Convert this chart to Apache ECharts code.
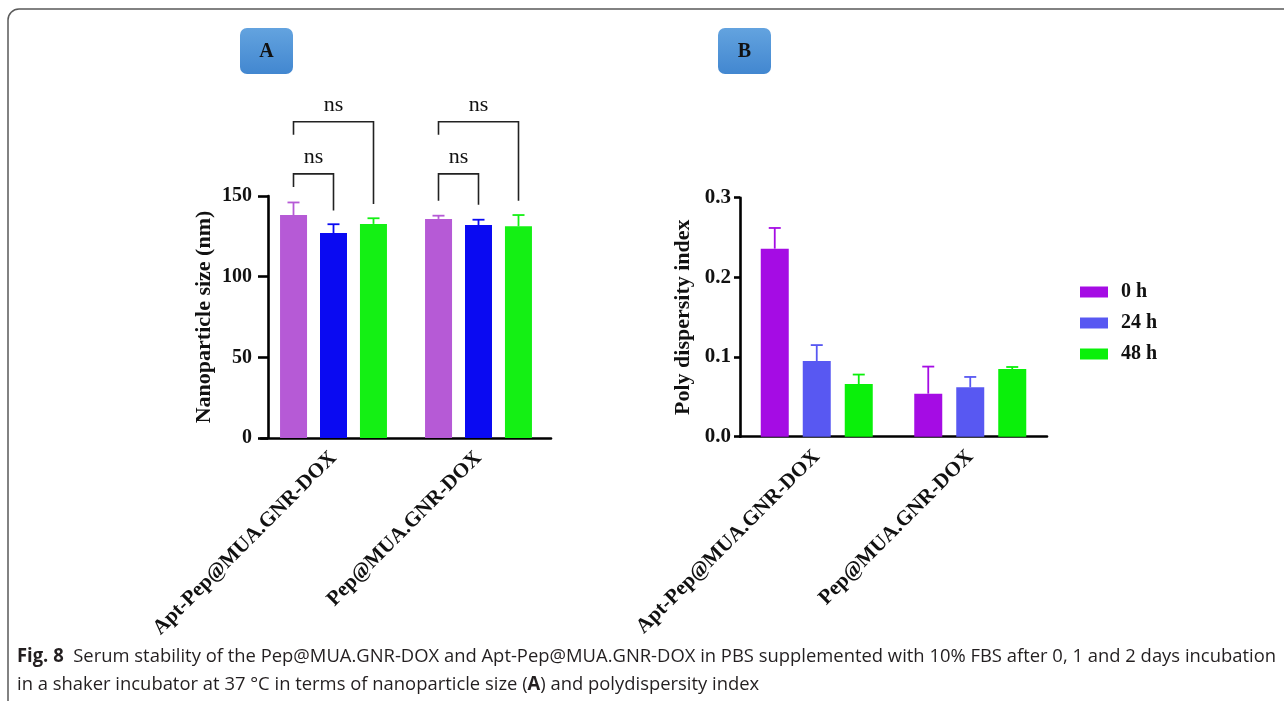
<!DOCTYPE html>
<html>
<head>
<meta charset="utf-8">
<script src="https://cdn.jsdelivr.net/npm/echarts@6/dist/echarts.min.js"></script>
<style>
  html, body { margin: 0; padding: 0; background: #fff; }
  #chart { width: 1284px; height: 701px; }
</style>
</head>
<body>
<div id="chart"></div>
<script>
// categories and time points
const categories = ['Apt-Pep@MUA.GNR-DOX', 'Pep@MUA.GNR-DOX'];
const timePoints = ['0 h', '24 h', '48 h'];

// A: nanoparticle size (nm), mean and SD
const sizeMean0 = [138.2, 135.8];
const sizeSd0 = [7.8, 2.0];
const sizeMean24 = [127.0, 132.0];
const sizeSd24 = [5.5, 3.3];
const sizeMean48 = [132.7, 131.2];
const sizeSd48 = [3.5, 7.0];
const sizeTicks = [0, 50, 100, 150];

// B: poly dispersity index, mean and SD
const pdiMean0 = [0.236, 0.054];
const pdiSd0 = [0.026, 0.034];
const pdiMean24 = [0.095, 0.062];
const pdiSd24 = [0.020, 0.013];
const pdiMean48 = [0.066, 0.085];
const pdiSd48 = [0.012, 0.0025];
const pdiTicks = [0, 0.1, 0.2, 0.3];

// "ns" brackets on panel A: [category, fromBar, toBar, top, leftLegEnd, rightLegEnd]
const brackets = [
  [0, 0, 2, 196, 188, 145],
  [0, 0, 1, 163.7, 155.6, 141],
  [1, 0, 2, 196, 188, 147],
  [1, 0, 1, 163.7, 147, 144.5]
];
const bracketLabel = 'ns';

const colorsA = ['#b65ad6', '#0a0af2', '#14f014'];
const colorsB = ['#a50ce4', '#5858f2', '#0af00a'];
const serif = '"Liberation Serif", "Times New Roman", serif';

const chart = echarts.init(document.getElementById('chart'));

function barSeries(name, values, axis, color, width, gap) {
  return {
    type: 'bar', name: name, data: values,
    xAxisIndex: axis, yAxisIndex: axis,
    barWidth: width, barGap: gap,
    itemStyle: { color: color }, z: 2
  };
}

function errorSeries(name, means, sds, axis, slot, color, pitch) {
  return {
    type: 'custom', name: name, xAxisIndex: axis, yAxisIndex: axis,
    clip: false, z: 3,
    data: means.map((m, i) => [i, m, sds[i]]),
    renderItem(params, api) {
      const x = api.coord([api.value(0), 0])[0] + (slot - 1) * pitch;
      const y0 = api.coord([api.value(0), api.value(1)])[1];
      const y1 = api.coord([api.value(0), api.value(1) + api.value(2)])[1];
      const st = { stroke: color, lineWidth: 1.8 };
      return {
        type: 'group', children: [
          { type: 'line', shape: { x1: x, y1: y0, x2: x, y2: y1 }, style: st },
          { type: 'line', shape: { x1: x - 6, y1: y1, x2: x + 6, y2: y1 }, style: st }
        ]
      };
    }
  };
}

const pitchA = 40, pitchB = 42;

const bracketSeries = {
  type: 'custom', xAxisIndex: 0, yAxisIndex: 0, clip: false, z: 4,
  data: brackets,
  renderItem(params, api) {
    const cx = api.coord([api.value(0), 0])[0];
    const xl = cx + (api.value(1) - 1) * pitchA;
    const xr = cx + (api.value(2) - 1) * pitchA;
    const yt = api.coord([api.value(0), api.value(3)])[1];
    const yl = api.coord([api.value(0), api.value(4)])[1];
    const yr = api.coord([api.value(0), api.value(5)])[1];
    return {
      type: 'group', children: [
        { type: 'polyline', shape: { points: [[xl, yl], [xl, yt], [xr, yt], [xr, yr]] },
          style: { stroke: '#222', lineWidth: 1.6, fill: null } },
        { type: 'text', x: (xl + xr) / 2, y: yt - 17,
          style: { text: bracketLabel, font: '22px ' + serif, fill: '#111', align: 'center', verticalAlign: 'middle' } }
      ]
    };
  }
};

function axisCommon() {
  return {
    axisLine: { lineStyle: { color: '#000', width: 2.6 } },
    axisTick: { lineStyle: { color: '#000', width: 2.6 } },
    splitLine: { show: false }
  };
}

// caption fitting
const cap1a = 'Fig. 8';
const cap1b = '  Serum stability of the Pep@MUA.GNR-DOX and Apt-Pep@MUA.GNR-DOX in PBS supplemented with 10% FBS after 0, 1 and 2 days incubation';
const cap2a = 'in a shaker incubator at 37 °C in terms of nanoparticle size (';
const cap2b = 'A';
const cap2c = ') and polydispersity index';
const capFont = '"Open Sans", "Noto Sans", sans-serif';
const ctx = document.createElement('canvas').getContext('2d');
function tw(t, bold) { ctx.font = (bold ? 'bold ' : '') + '19px ' + capFont; return ctx.measureText(t).width; }
const capScale = 1259 / (tw(cap1a, true) + tw(cap1b, false));
const rich = {
  b: { font: 'bold 19px ' + capFont, fill: '#231f20' },
  n: { font: '19px ' + capFont, fill: '#231f20' }
};

function panelTag(x, letter) {
  return {
    type: 'group', x: x, y: 28, children: [
      { type: 'rect', shape: { x: 0, y: 0, width: 53, height: 46, r: 7 },
        style: { fill: new echarts.graphic.LinearGradient(0, 0, 0, 1, [
          { offset: 0, color: '#63a3df' }, { offset: 1, color: '#4287d0' }]) } },
      { type: 'text', x: 26.5, y: 24,
        style: { text: letter, font: 'bold 20px ' + serif, fill: '#111', align: 'center', verticalAlign: 'middle' } }
    ]
  };
}

chart.setOption({
  animation: false,
  backgroundColor: '#fff',
  grid: [
    { left: 261, top: 196, width: 290, height: 242 },
    { left: 740, top: 197.7, width: 307, height: 239 }
  ],
  legend: {
    orient: 'vertical', left: 1075, top: 276,
    itemWidth: 28, itemHeight: 11, itemGap: 9,
    icon: 'rect',
    textStyle: { fontFamily: serif, fontWeight: 'bold', fontSize: 20, color: '#111', lineHeight: 22, padding: [0, 0, 0, 8] },
    data: timePoints.map((t, i) => ({ name: t, itemStyle: { color: colorsB[i] } }))
  },
  xAxis: [0, 1].map(i => Object.assign(axisCommon(), {
    type: 'category', gridIndex: i, data: categories,
    axisTick: { alignWithLabel: true, length: 9, lineStyle: { color: '#000', width: 2.6 } },
    axisLabel: { rotate: 45, margin: 17, color: '#111', fontFamily: serif, fontWeight: 'bold', fontSize: 21 }
  })),
  yAxis: [
    Object.assign(axisCommon(), {
      type: 'value', gridIndex: 0, min: sizeTicks[0], max: sizeTicks[sizeTicks.length - 1], interval: 50,
      offset: -7,
      axisLine: { show: true, lineStyle: { color: '#000', width: 2.6 } },
      axisTick: { show: true, length: 10, lineStyle: { color: '#000', width: 2.6 } },
      axisLabel: { margin: 16, color: '#111', fontFamily: serif, fontWeight: 'bold', fontSize: 20 },
      name: 'Nanoparticle size (nm)', nameLocation: 'middle', nameGap: 53,
      nameTextStyle: { fontFamily: serif, fontWeight: 'bold', fontSize: 22, color: '#111' }
    }),
    Object.assign(axisCommon(), {
      type: 'value', gridIndex: 1, min: pdiTicks[0], max: pdiTicks[pdiTicks.length - 1], interval: 0.1,
      axisLine: { show: true, lineStyle: { color: '#000', width: 2.6 } },
      axisTick: { show: true, length: 6, lineStyle: { color: '#000', width: 2.6 } },
      axisLabel: { margin: 9, color: '#111', fontFamily: serif, fontWeight: 'bold', fontSize: 21,
        formatter: v => v.toFixed(1) },
      name: 'Poly dispersity index', nameLocation: 'middle', nameGap: 46,
      nameTextStyle: { fontFamily: serif, fontWeight: 'bold', fontSize: 22, color: '#111' }
    })
  ],
  graphic: [
    { type: 'rect', shape: { x: 8, y: 9, width: 1300, height: 720, r: 11 },
      style: { fill: null, stroke: '#5a5a5a', lineWidth: 1.5 }, silent: true },
    panelTag(240, 'A'),
    panelTag(718, 'B'),
    { type: 'text', x: 17, y: 657, scaleX: capScale,
      style: { text: '{b|' + cap1a + '}{n|' + cap1b + '}', rich: rich, verticalAlign: 'middle' } },
    { type: 'text', x: 17, y: 685, scaleX: capScale,
      style: { text: '{n|' + cap2a + '}{b|' + cap2b + '}{n|' + cap2c + '}', rich: rich, verticalAlign: 'middle' } }
  ],
  series: [
    barSeries('A 0 h', sizeMean0, 0, colorsA[0], 27, '48%'),
    barSeries('A 24 h', sizeMean24, 0, colorsA[1], 27, '48%'),
    barSeries('A 48 h', sizeMean48, 0, colorsA[2], 27, '48%'),
    errorSeries('A 0 h', sizeMean0, sizeSd0, 0, 0, colorsA[0], pitchA),
    errorSeries('A 24 h', sizeMean24, sizeSd24, 0, 1, colorsA[1], pitchA),
    errorSeries('A 48 h', sizeMean48, sizeSd48, 0, 2, colorsA[2], pitchA),
    bracketSeries,
    barSeries(timePoints[0], pdiMean0, 1, colorsB[0], 28, '50%'),
    barSeries(timePoints[1], pdiMean24, 1, colorsB[1], 28, '50%'),
    barSeries(timePoints[2], pdiMean48, 1, colorsB[2], 28, '50%'),
    errorSeries(timePoints[0], pdiMean0, pdiSd0, 1, 0, colorsB[0], pitchB),
    errorSeries(timePoints[1], pdiMean24, pdiSd24, 1, 1, colorsB[1], pitchB),
    errorSeries(timePoints[2], pdiMean48, pdiSd48, 1, 2, colorsB[2], pitchB)
  ]
});
</script>
</body>
</html>
